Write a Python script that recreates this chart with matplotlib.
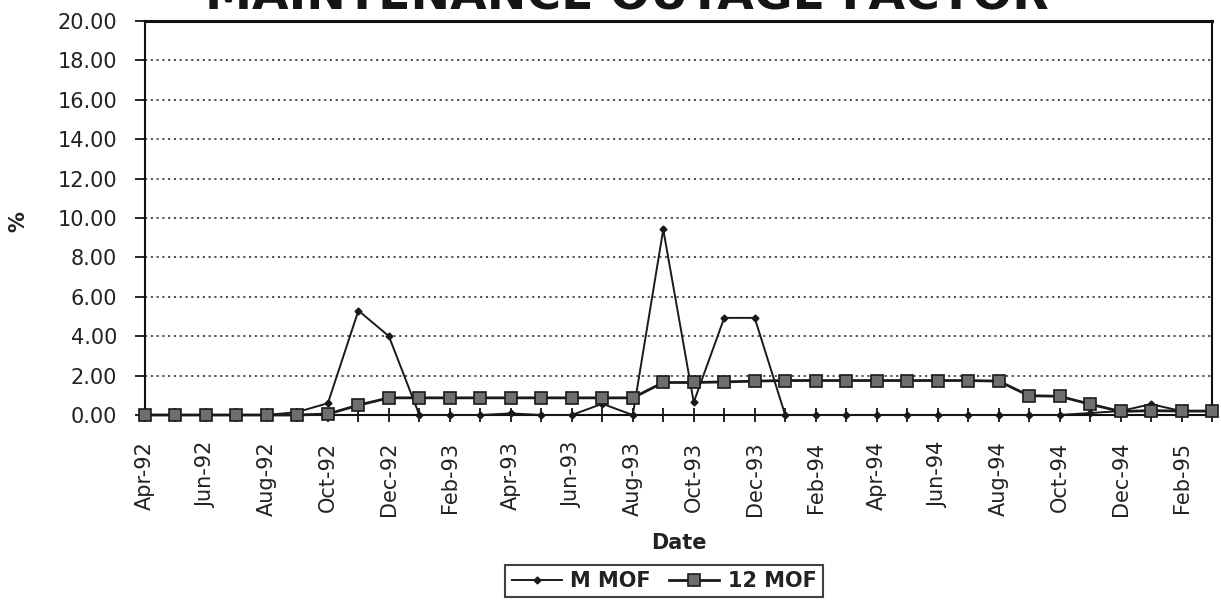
import matplotlib
matplotlib.use("Agg")
import matplotlib.pyplot as plt
import numpy as np

# Monthly maintenance outage factor, Apr-92 .. Mar-95
months = ["Apr-92", "May-92", "Jun-92", "Jul-92", "Aug-92", "Sep-92", "Oct-92", "Nov-92",
          "Dec-92", "Jan-93", "Feb-93", "Mar-93", "Apr-93", "May-93", "Jun-93", "Jul-93",
          "Aug-93", "Sep-93", "Oct-93", "Nov-93", "Dec-93", "Jan-94", "Feb-94", "Mar-94",
          "Apr-94", "May-94", "Jun-94", "Jul-94", "Aug-94", "Sep-94", "Oct-94", "Nov-94",
          "Dec-94", "Jan-95", "Feb-95", "Mar-95"]

m_mof = [0.0, 0.0, 0.0, 0.0, 0.0, 0.15, 0.6, 5.3,
         4.0, 0.0, 0.0, 0.0, 0.08, 0.0, 0.0, 0.57,
         0.0, 9.42, 0.65, 4.93, 4.93, 0.0, 0.0, 0.0,
         0.0, 0.0, 0.0, 0.0, 0.0, 0.0, 0.0, 0.1,
         0.2, 0.55, 0.2, 0.2]

mof_12 = [0.0, 0.0, 0.0, 0.0, 0.0, 0.0, 0.05, 0.5,
          0.87, 0.87, 0.87, 0.87, 0.87, 0.87, 0.87, 0.87,
          0.87, 1.65, 1.65, 1.68, 1.72, 1.75, 1.75, 1.75,
          1.75, 1.75, 1.75, 1.75, 1.72, 0.98, 0.95, 0.55,
          0.18, 0.22, 0.2, 0.2]

y_ticks = np.arange(0, 21, 2)

W, H = 1221, 603
fig = plt.figure(figsize=(W / 100, H / 100), dpi=100)
ax = fig.add_axes([145 / W, 1 - 415 / H, (1212 - 145) / W, (415 - 21) / H])

x = np.arange(len(months))
ax.plot(x, m_mof, color="#1a1a1a", lw=1.4, marker="D", ms=3.5,
        mfc="#1a1a1a", mec="#1a1a1a", label="M MOF", zorder=3, clip_on=False)
ax.plot(x, mof_12, color="#1a1a1a", lw=2.0, marker="s", ms=8,
        mfc="#6e6e6e", mec="#1a1a1a", mew=1.2, label="12 MOF", zorder=4, clip_on=False)

ax.set_xlim(0, len(months) - 1)
ax.set_ylim(0, 20)
ax.set_yticks(y_ticks)
ax.set_yticklabels([f"{v:.2f}" for v in y_ticks], fontsize=15, color="#222")
ax.set_xticks(x)
ax.set_xticklabels([m if i % 2 == 0 else "" for i, m in enumerate(months)],
                   rotation=90, fontsize=15, color="#222")
ax.tick_params(axis="y", direction="out", length=7, width=1.2, pad=13)
ax.tick_params(axis="x", direction="inout", length=10, width=1.2, pad=14)

ax.grid(axis="y", color="#444", linestyle=(0, (1.2, 2.0)), lw=1.3)
ax.set_axisbelow(True)
for side in ["left", "bottom", "right", "top"]:
    ax.spines[side].set_color("#111")
    ax.spines[side].set_linewidth(1.5)
ax.spines["top"].set_linewidth(2.2)

ax.set_xlabel("Date", fontsize=15, fontweight="bold", color="#222", labelpad=12)
fig.text(18 / W, 1 - 222 / H, "%", rotation=90, fontsize=15, fontweight="bold",
         ha="center", va="center", color="#222")

# heading sits mostly above the top edge of the page
fig.text(627 / W, 1 - 10 / H, "MAINTENANCE OUTAGE FACTOR", ha="center", va="baseline",
         fontsize=34, fontweight="bold", color="#151515")

leg = fig.legend(loc="center", bbox_to_anchor=(664 / W, 1 - 581 / H), ncol=2,
                 frameon=True, fancybox=False, edgecolor="#111", handlelength=2.4,
                 columnspacing=0.9, handletextpad=0.4, borderpad=0.3,
                 prop={"size": 15, "weight": "bold"})
leg.get_frame().set_linewidth(1.5)
for t in leg.get_texts():
    t.set_color("#222")

fig.savefig("out.png", dpi=100, facecolor="white")
